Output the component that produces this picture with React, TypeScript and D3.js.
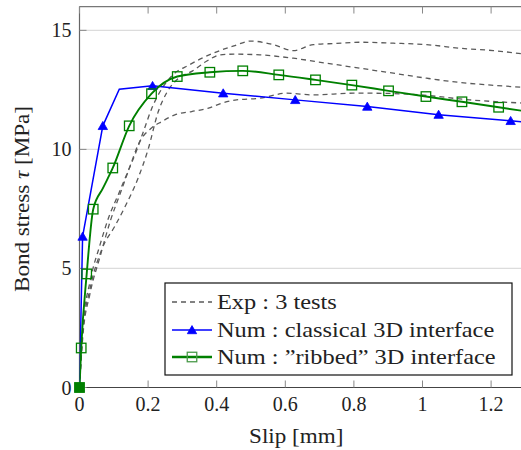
import React from "react";
import * as d3 from "d3";

type P = [number, number];

// Experimental tests (slip [mm], bond stress [MPa])
const expTest1: P[] = [
  [0, 0], [0.01, 2.6], [0.03, 4.4], [0.06, 6.0], [0.084, 7.1], [0.113, 8.1], [0.142, 9.1],
  [0.165, 9.9], [0.19, 10.9], [0.21, 11.7], [0.23, 12.3], [0.27, 13.1], [0.32, 13.55],
  [0.36, 13.85], [0.4, 14.1], [0.45, 14.35], [0.5, 14.55], [0.565, 14.4], [0.623, 14.15],
  [0.682, 14.4], [0.75, 14.45], [0.818, 14.5], [0.915, 14.46], [1.012, 14.4], [1.109, 14.25],
  [1.206, 14.15], [1.3, 14.0],
];
const expTest2: P[] = [
  [0, 0], [0.01, 2.4], [0.03, 4.1], [0.065, 5.8], [0.104, 6.8], [0.133, 7.6], [0.171, 8.8],
  [0.2, 10.0], [0.23, 11.6], [0.255, 12.4], [0.29, 13.0], [0.33, 13.3], [0.37, 13.7],
  [0.41, 13.97], [0.45, 14.0], [0.526, 13.97], [0.623, 13.83], [0.72, 13.62], [0.818, 13.41],
  [0.915, 13.2], [1.012, 12.99], [1.109, 12.81], [1.2, 12.7], [1.3, 12.6],
];
const expTest3: P[] = [
  [0, 0], [0.01, 2.2], [0.03, 3.9], [0.06, 5.5], [0.09, 7.0], [0.12, 8.2], [0.15, 9.4],
  [0.171, 10.2], [0.21, 10.9], [0.24, 11.17], [0.278, 11.45], [0.327, 11.59], [0.376, 11.73],
  [0.415, 11.94], [0.458, 12.08], [0.526, 12.15], [0.604, 12.36], [0.682, 12.29], [0.798, 12.36],
  [0.85, 12.36], [0.993, 12.29], [1.138, 12.08], [1.3, 11.94],
];
const expTests: P[][] = [expTest1, expTest2, expTest3];

// Numerical: classical 3D interface
const numClassical: P[] = [
  [0, 0], [0.009, 6.34], [0.068, 10.99], [0.116, 12.53], [0.213, 12.67], [0.419, 12.36],
  [0.629, 12.08], [0.839, 11.8], [1.047, 11.46], [1.257, 11.2], [1.3, 11.14],
];
const numClassicalMarks: number[] = [0, 1, 2, 4, 5, 6, 7, 8, 9];

// Numerical: "ribbed" 3D interface
const numRibbed: P[] = [
  [0, 0], [0.005, 1.66], [0.021, 4.77], [0.04, 7.49], [0.068, 8.36], [0.097, 9.22], [0.145, 10.99],
  [0.21, 12.34], [0.285, 13.06], [0.38, 13.24], [0.476, 13.3], [0.581, 13.13], [0.688, 12.92],
  [0.794, 12.7], [0.901, 12.46], [1.01, 12.22], [1.115, 12.0], [1.222, 11.77], [1.3, 11.6],
];
const numRibbedMarks: number[] = [0, 1, 2, 3, 5, 6, 7, 8, 9, 10, 11, 12, 13, 14, 15, 16, 17];

const xTicks = [0, 0.2, 0.4, 0.6, 0.8, 1, 1.2];
const yTicks = [0, 5, 10, 15];
const xLabel = "Slip [mm]";
const yLabelMain = "Bond stress ";
const yLabelSym = "\u03c4";
const yLabelUnit = " [MPa]";
const legendLabels = [
  "Exp : 3 tests",
  "Num : classical 3D interface",
  "Num : \u201dribbed\u201d 3D interface",
];

const W = 521;
const H = 450;
const FONT = "Liberation Serif, DejaVu Serif, serif";
const BLUE = "#0000ff";
const GREEN = "#008000";
const GRAY = "#5a5a5a";

export default function App() {
  const x = d3.scaleLinear().domain([0, 1.3]).range([79.5, 79.5 + 1.3 * 343]);
  const y = d3.scaleLinear().domain([0, 16]).range([387.5, 387.5 - 16 * 23.81]);
  const [x0, x1] = x.range();
  const [y0, y1] = y.range();

  const smooth = d3
    .line<P>()
    .x((d) => x(d[0]))
    .y((d) => y(d[1]))
    .curve(d3.curveMonotoneX);
  const straight = d3
    .line<P>()
    .x((d) => x(d[0]))
    .y((d) => y(d[1]));

  const tri = d3.symbol().type(d3.symbolTriangle).size(38)() as string;
  const sq = 9.5;

  const sx = 1.1;
  const sxLeg = 1.16;

  const legX = 165;
  const legY = 283;
  const legW = 347;
  const legH = 92;
  const rows = [302, 330, 357];

  return (
    <svg width={W} height={H} style={{ position: "absolute", left: 0, top: 0, background: "#fff" }}>
      <defs>
        <clipPath id="plotclip">
          <rect x={x0} y={y1} width={x1 - x0} height={y0 - y1} />
        </clipPath>
      </defs>
      <rect x={0} y={0} width={W} height={H} fill="#fff" />

      {/* grid */}
      {yTicks.filter((t) => t > 0).map((t) => (
        <line key={"g" + t} x1={x0} x2={x1} y1={y(t)} y2={y(t)} stroke="#dcdcdc" strokeWidth={1.3} />
      ))}

      {/* frame */}
      <line x1={x0} x2={x1} y1={y0} y2={y0} stroke="#444" strokeWidth={1.2} />
      <line x1={x0} x2={x1} y1={y1} y2={y1} stroke="#777" strokeWidth={1.2} />
      <line x1={x0} x2={x0} y1={y0} y2={y1} stroke="#666" strokeWidth={1.2} />
      <line x1={x1} x2={x1} y1={y0} y2={y1} stroke="#666" strokeWidth={1.2} />

      {/* ticks */}
      {xTicks.map((t) => (
        <g key={"xt" + t}>
          <line x1={x(t)} x2={x(t)} y1={y0} y2={y0 - 7} stroke="#888" strokeWidth={1} />
          <line x1={x(t)} x2={x(t)} y1={y1} y2={y1 + 7} stroke="#888" strokeWidth={1} />
          <text
            x={x(t)}
            y={y0 + 23}
            textAnchor="middle"
            style={{ fontFamily: FONT }}
            fontSize={20}
            fill="#222"
          >
            {String(t)}
          </text>
        </g>
      ))}
      {yTicks.map((t) => (
        <g key={"yt" + t}>
          <line x1={x0} x2={x0 + 7} y1={y(t)} y2={y(t)} stroke="#888" strokeWidth={1} />
          <text
            x={x0 - 8}
            y={y(t) + 7}
            textAnchor="end"
            style={{ fontFamily: FONT }}
            fontSize={20}
            fill="#222"
          >
            {String(t)}
          </text>
        </g>
      ))}

      {/* curves */}
      <g clipPath="url(#plotclip)">
        {expTests.map((d, i) => (
          <path
            key={"e" + i}
            d={smooth(d) as string}
            fill="none"
            stroke={GRAY}
            strokeWidth={1.3}
            strokeDasharray="5,4"
          />
        ))}
        <path d={straight(numClassical) as string} fill="none" stroke={BLUE} strokeWidth={1.5} />
        <path d={smooth(numRibbed) as string} fill="none" stroke={GREEN} strokeWidth={1.9} />
      </g>

      {/* markers */}
      {numClassicalMarks.map((i) => (
        <path
          key={"bm" + i}
          d={tri}
          transform={`translate(${x(numClassical[i][0])},${y(numClassical[i][1]) + 1})`}
          fill={BLUE}
          stroke={BLUE}
          strokeWidth={0.8}
        />
      ))}
      {numRibbedMarks.map((i) => (
        <rect
          key={"gm" + i}
          x={x(numRibbed[i][0]) - sq / 2}
          y={y(numRibbed[i][1]) - sq / 2}
          width={sq}
          height={sq}
          fill={i === 0 ? GREEN : "none"}
          stroke={GREEN}
          strokeWidth={1.3}
        />
      ))}

      {/* axis labels */}
      <text
        transform={`translate(${(x0 + 513) / 2},${443}) scale(${sx},1)`}
        textAnchor="middle"
        style={{ fontFamily: FONT }}
        fontSize={21}
        fill="#222"
      >
        {xLabel}
      </text>
      <text
        transform={`translate(29,${199}) rotate(-90) scale(${sx},1)`}
        textAnchor="middle"
        style={{ fontFamily: FONT }}
        fontSize={21}
        fill="#222"
      >
        {yLabelMain}
        <tspan fontStyle="italic">{yLabelSym}</tspan>
        {yLabelUnit}
      </text>

      {/* legend */}
      <rect x={legX} y={legY} width={legW} height={legH} fill="#fff" stroke="#111" strokeWidth={1.2} />
      <line x1={172} x2={212} y1={rows[0]} y2={rows[0]} stroke={GRAY} strokeWidth={1.3} strokeDasharray="5,4" />
      <line x1={172} x2={212} y1={rows[1]} y2={rows[1]} stroke={BLUE} strokeWidth={1.5} />
      <path d={tri} transform={`translate(192,${rows[1] + 1})`} fill={BLUE} stroke={BLUE} strokeWidth={0.8} />
      <line x1={172} x2={212} y1={rows[2]} y2={rows[2]} stroke={GREEN} strokeWidth={2.6} />
      <rect x={192 - sq / 2} y={rows[2] - sq / 2} width={sq} height={sq} fill="none" stroke="#4a9a4a" strokeWidth={1.3} />
      {legendLabels.map((l, i) => (
        <text
          key={"l" + i}
          transform={`translate(217,${rows[i] + 7}) scale(${sxLeg},1)`}
          style={{ fontFamily: FONT }}
          fontSize={21}
          fill="#222"
        >
          {l}
        </text>
      ))}
    </svg>
  );
}
